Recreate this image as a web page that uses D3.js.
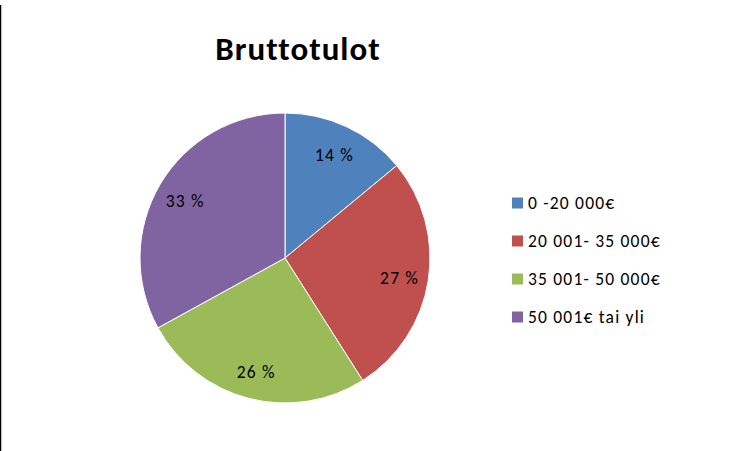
<!DOCTYPE html>
<html>
<head>
<meta charset="utf-8">
<script src="https://cdn.jsdelivr.net/npm/d3@7"></script>
<style>
  body { margin: 0; background: #fff; }
  svg { display: block; }
  text { font-family: Carlito, Lato, "Open Sans", sans-serif; }
</style>
</head>
<body>
<div id="chart"></div>
<script>
// Bruttotulot pie chart

const categories = ["0 -20 000€", "20 001- 35 000€", "35 001- 50 000€", "50 001€ tai yli"];
const values = [14, 27, 26, 33];
const labels = ["14 %", "27 %", "26 %", "33 %"];
const colors = ["#4F81BD", "#C0504D", "#9BBB59", "#8064A2"];

const W = 753, H = 451;
const cx = 285, cy = 258, radius = 145;

const svg = d3.select("#chart")
  .append("svg")
  .attr("width", W)
  .attr("height", H);

svg.append("rect").attr("width", W).attr("height", H).attr("fill", "#fff");

// left frame edge
svg.append("line")
  .attr("x1", 0.5).attr("x2", 0.5)
  .attr("y1", 5).attr("y2", H)
  .attr("stroke", "#000")
  .attr("stroke-width", 1.5);

// title
svg.append("text")
  .attr("x", 298)
  .attr("y", 60)
  .attr("text-anchor", "middle")
  .style("font-size", "33px")
  .style("font-weight", "bold")
  .style("letter-spacing", "1px")
  .style("fill", "#000")
  .text("Bruttotulot");

const data = categories.map((c, i) => ({ name: c, value: values[i], label: labels[i], color: colors[i] }));

const pie = d3.pie().sort(null).value((d) => d.value);
const arc = d3.arc().innerRadius(0).outerRadius(radius);
const labelArc = d3.arc().innerRadius(radius * 0.8).outerRadius(radius * 0.8);

const pieG = svg.append("g").attr("transform", `translate(${cx},${cy})`);

const arcs = pie(data);

pieG.selectAll("path.slice")
  .data(arcs)
  .enter()
  .append("path")
  .attr("class", "slice")
  .attr("d", arc)
  .attr("fill", (d) => d.data.color)
  .attr("stroke", "#fff")
  .attr("stroke-width", 1);

pieG.selectAll("text.lbl")
  .data(arcs)
  .enter()
  .append("text")
  .attr("class", "lbl")
  .attr("transform", (d) => `translate(${labelArc.centroid(d)})`)
  .attr("text-anchor", "middle")
  .attr("dy", "0.45em")
  .style("font-size", "17.5px")
  .style("letter-spacing", "1.2px")
  .style("fill", "#000")
  .text((d) => d.data.label);

// legend
const legendG = svg.append("g").attr("transform", "translate(512, 203)");
const itemGap = 38;

const legend = legendG.selectAll(".legend-item")
  .data(data)
  .enter()
  .append("g")
  .attr("class", "legend-item")
  .attr("transform", (d, i) => `translate(0, ${i * itemGap})`);

legend.append("rect")
  .attr("x", 0)
  .attr("y", -5.5)
  .attr("width", 11)
  .attr("height", 11)
  .attr("fill", (d) => d.color);

legend.append("text")
  .attr("x", 16)
  .attr("y", 0)
  .attr("dy", "0.35em")
  .style("font-size", "17.5px")
  .style("letter-spacing", "1.2px")
  .style("fill", "#000")
  .text((d) => d.name);
</script>
</body>
</html>
